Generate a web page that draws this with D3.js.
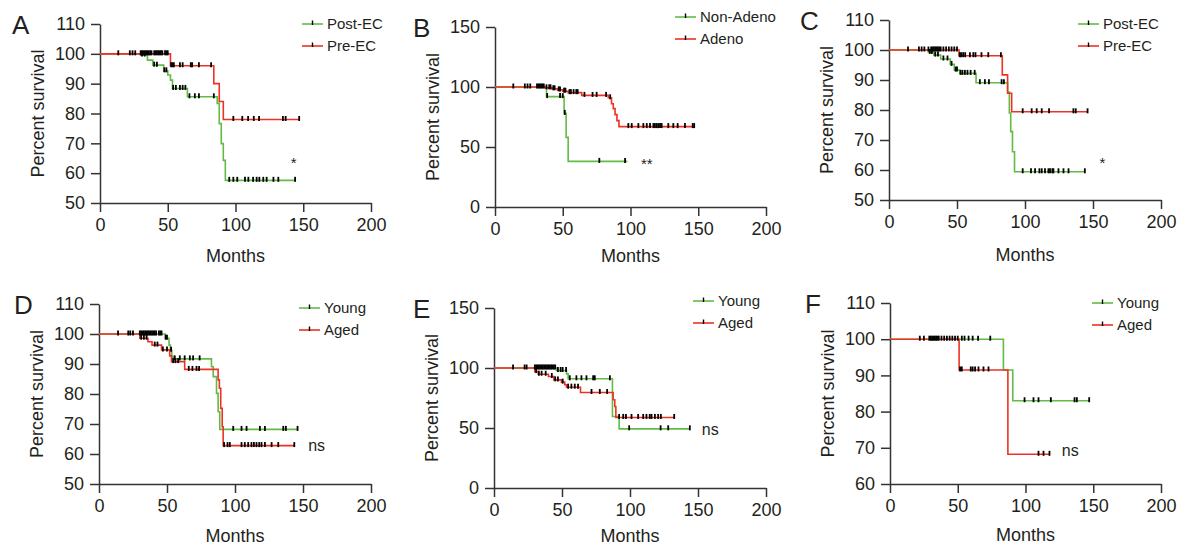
<!DOCTYPE html>
<html>
<head>
<meta charset="utf-8">
<script src="https://cdn.jsdelivr.net/npm/d3@7"></script>
<style>
  body { margin: 0; background: #fff; }
  text { font-family: "Liberation Sans", Arial, sans-serif; fill: #231f20; }
</style>
</head>
<body>
<div id="chart"></div>
<script>
// ---- data: step points [months, percent] and censor times ----
// A: Post-EC vs Pre-EC
var aPost = [[0,100],[30,99.6],[35,97.9],[39,96.2],[47,94.3],[50,92.9],[52,91.2],[53.5,88.4],[64.5,85.6],[86.5,83.4],[88,76.6],[89.5,69.9],[91,64.3],[92.5,57.6],[144,57.6]];
var aPostCens = [31,33,40,42,47.5,49,54,56,59,61,63,66,70,73,84,95.4,98.4,101.3,107,109.5,113,115.6,117.6,120.5,123,128,131.6,144];
var aPre = [[0,100],[52,96],[84,90],[88,84],[91,78],[147,78]];
var aPreCens = [13.5,22,24,26,30,31,32,33,34,35,36,37,38,40,41,42,43,44,45,46,48,49,50,52.5,53.5,54.5,59,61,67,68,73,82,98.4,105,109.3,113.5,117.4,135,137,147];

// B: Non-Adeno vs Adeno
var bNon = [[0,100],[38,92],[51,78],[52.5,58],[54,38],[97.7,38]];
var bNonCens = [38.5,48,50,51.5,77,96];
var bAde = [[0,100],[37,99.3],[42,98.5],[46,97.6],[50,96.5],[54,95.3],[64,93],[83.6,91],[86,86],[87.3,82],[88.6,77],[90,72],[91.5,67],[147,67]];
var bAdeCens = [13.5,22,24,26,31,32,33,34,35,36,38,40,41,43,44,47,48,51,52,55,56,58,60,61,66,72,75,82,85,98.4,100.9,105.8,109.5,112,114.4,116.9,118,119.3,120.5,121.8,123,127.9,131.6,134.8,140.2,145.9,147];

// C: Post-EC vs Pre-EC
var cPost = [[0,100],[29,99.2],[33,98.3],[38,97],[45,95.2],[48,93.3],[52,92.2],[64,89.1],[87.2,86],[88.5,79],[89.5,72.8],[90.8,66.1],[92.3,59.4],[144,59.4]];
var cPostCens = [30,31.5,34,36,40,43,46,49,50,52.6,54,55.8,57.7,60,63,66.8,70.5,73.5,82.8,84.5,98.3,104.4,107.4,110.6,112.3,114.7,117.2,118.4,120.1,120.9,124.6,128.3,132,144];
var cPre = [[0,100],[51.5,98.1],[83.3,91.7],[87.2,85.6],[90.2,79.4],[146,79.4]];
var cPreCens = [14,22,24,26,29,31,32,33,34,35,36,37,38,40,42,44,46,48,50,52,53,54.5,56,59.5,62,63.6,68,73,82.3,98.3,104.9,108.6,112.3,117.7,135.6,137.3,146];

// D: Young vs Aged
var dYoung = [[0,100],[48.8,98.6],[51.5,96.3],[52.5,94.6],[53.5,92.6],[54.5,91.7],[82.7,89.1],[84,85.8],[86.4,80.2],[87.6,74.1],[88.8,68.2],[146,68.2]];
var dYoungCens = [14,21.5,23,25,30,31,32,33,34,35,36,37,38,39,40,41,42,44,45,46,49,50,53,55.7,59.4,63,66.8,69.2,74,98.7,104.8,108.5,118.3,122,135.5,137.4,146];
var dAged = [[0,100],[30,98.6],[36,97.4],[39,96.3],[46,94.7],[52,92.7],[53.3,90.8],[63,88.2],[87.6,84.7],[88.5,81.9],[89.5,75.2],[90.6,69.1],[91.3,62.8],[144,62.8]];
var dAgedCens = [31,33,35,41,43,47,50,54.5,56.2,58.2,66,68.7,71.7,73.6,92,94.5,96.2,104.8,107.2,109.7,112.1,113.9,115.8,117.8,119.5,122,126.9,131.8,143.6];

// E: Young vs Aged
var eYoung = [[0,100],[45.9,97.9],[53.3,95.1],[54.5,91],[87.1,59.6],[92,49.3],[144,49.3]];
var eYoungCens = [14,22.5,24,30,31,32,33,34,35,36,37,38,39,40,41,42,43,44,45,47,49,50.5,53,55.7,60.6,64.3,68,72.9,74.1,85.2,99.4,122.5,128.1,144];
var eAged = [[0,100],[30,97],[32.5,94.8],[40,92.9],[44,90.1],[49.6,88.2],[52,86],[53.3,84],[63.6,79.6],[87.6,73.5],[88.8,67.9],[89.6,58.8],[132.5,58.8]];
var eAgedCens = [31,33,35,38,42.5,45,47,50.5,54.5,56.9,59.4,61.8,71.7,77.8,83.2,92,95,97,101.1,106,109.7,112.1,114.5,115.8,118.3,120.7,122.7,132.5];

// F: Young vs Aged
var fYoung = [[0,100],[83.7,91.5],[90.6,83],[147,83]];
var fYoungCens = [22,25,29,30,31,32,33,34,35,36,38,40,42,44,46,48,50,53,55,58,61,65,74,99.3,105.9,109.6,118.7,136.2,137.9,147];
var fAged = [[0,100],[51,91.5],[87,68.2],[118,68.2]];
var fAgedCens = [51.7,53,59.6,61,62.8,65.3,69,72.7,109.6,113.3,117.7];

var xTicks = [0, 50, 100, 150, 200];

// ---- layout of the six panels ----
var panels = [
  {letter:"A", l:100, r:371, t:24, b:203, my:262, yDom:[50,110], yTicks:[50,60,70,80,90,100,110],
   green:aPost, greenCens:aPostCens, red:aPre, redCens:aPreCens, names:["Post-EC","Pre-EC"],
   legX:302, legY:24, lx:12, note:"*", noteAt:[143,63.5]},
  {letter:"B", l:495, r:766, t:27, b:207, my:262, yDom:[0,150], yTicks:[0,50,100,150],
   green:bNon, greenCens:bNonCens, red:bAde, redCens:bAdeCens, names:["Non-Adeno","Adeno"],
   legX:675, legY:17, lx:413, note:"**", noteAt:[112,36]},
  {letter:"C", l:889, r:1161, t:20, b:200, my:261, yDom:[50,110], yTicks:[50,60,70,80,90,100,110],
   green:cPost, greenCens:cPostCens, red:cPre, redCens:cPreCens, names:["Post-EC","Pre-EC"],
   legX:1078, legY:24, lx:800, note:"*", noteAt:[157,62.5]},
  {letter:"D", l:99, r:371, t:304, b:484, my:542, yDom:[50,110], yTicks:[50,60,70,80,90,100,110],
   green:dYoung, greenCens:dYoungCens, red:dAged, redCens:dAgedCens, names:["Young","Aged"],
   legX:299, legY:308, lx:14, note:"ns", noteAt:[160,63]},
  {letter:"E", l:494, r:766, t:308, b:488, my:542, yDom:[0,150], yTicks:[0,50,100,150],
   green:eYoung, greenCens:eYoungCens, red:eAged, redCens:eAgedCens, names:["Young","Aged"],
   legX:693, legY:301, lx:413, note:"ns", noteAt:[159,49]},
  {letter:"F", l:890, r:1161, t:303, b:484, my:541, yDom:[60,110], yTicks:[60,70,80,90,100,110],
   green:fYoung, greenCens:fYoungCens, red:fAged, redCens:fAgedCens, names:["Young","Aged"],
   legX:1092, legY:303, lx:805, note:"ns", noteAt:[133,69.4]}
];

var GREEN = "#62bb46", RED = "#ed3224", AXIS = "#333";

var svg = d3.select("#chart").append("svg")
  .attr("width", 1181).attr("height", 548);

// survival value at time t from step data
function survAt(steps, t) {
  var v = steps[0][1];
  steps.forEach(function(p) { if (p[0] <= t) v = p[1]; });
  return v;
}

panels.forEach(function(p) {
  var x = d3.scaleLinear().domain([0, 200]).range([p.l, p.r]);
  var y = d3.scaleLinear().domain(p.yDom).range([p.b, p.t]);
  var g = svg.append("g");

  // axes
  var xa = g.append("g").attr("transform", "translate(0," + p.b + ")")
    .call(d3.axisBottom(x).tickValues(xTicks).tickSize(9).tickPadding(6).tickSizeOuter(0));
  var ya = g.append("g").attr("transform", "translate(" + p.l + ",0)")
    .call(d3.axisLeft(y).tickValues(p.yTicks).tickSize(9).tickPadding(6).tickSizeOuter(0));
  [xa, ya].forEach(function(a) {
    a.select(".domain").attr("stroke", AXIS).attr("stroke-width", 1.5);
    a.selectAll(".tick line").attr("stroke", AXIS).attr("stroke-width", 1.5);
    a.selectAll(".tick text").style("font-size", "18px").attr("fill", "#231f20")
      .style("font-family", "'Liberation Sans', Arial, sans-serif");
  });

  // axis titles
  g.append("text")
    .attr("x", (p.l + p.r) / 2).attr("y", p.my)
    .attr("text-anchor", "middle").style("font-size", "18px")
    .text("Months");
  g.append("text")
    .attr("transform", "translate(" + (p.l - 56) + "," + ((p.t + p.b) / 2) + ") rotate(-90)")
    .attr("text-anchor", "middle").style("font-size", "18px")
    .text("Percent survival");

  // panel letter
  g.append("text").attr("x", p.lx).attr("y", p.t + 10)
    .style("font-size", "26px").text(p.letter);

  // curves
  var line = d3.line().curve(d3.curveStepAfter)
    .x(function(d) { return x(d[0]); })
    .y(function(d) { return y(d[1]); });

  [[p.green, GREEN], [p.red, RED]].forEach(function(s) {
    g.append("path").datum(s[0])
      .attr("fill", "none").attr("stroke", s[1]).attr("stroke-width", 1.6)
      .attr("d", line);
  });
  // censor marks
  [[p.green, p.greenCens], [p.red, p.redCens]].forEach(function(s) {
    g.selectAll(null).data(s[1]).enter().append("line")
      .attr("x1", function(t) { return x(t); })
      .attr("x2", function(t) { return x(t); })
      .attr("y1", function(t) { return y(survAt(s[0], t)) - 3.5; })
      .attr("y2", function(t) { return y(survAt(s[0], t)) + 1.5; })
      .attr("stroke", "#000").attr("stroke-width", 1.8);
  });

  // legend
  [GREEN, RED].forEach(function(c, i) {
    var ly = p.legY + i * 22;
    g.append("line").attr("x1", p.legX).attr("x2", p.legX + 21)
      .attr("y1", ly).attr("y2", ly).attr("stroke", c).attr("stroke-width", 1.6);
    g.append("line").attr("x1", p.legX + 10.5).attr("x2", p.legX + 10.5)
      .attr("y1", ly - 3.5).attr("y2", ly + 1).attr("stroke", "#000").attr("stroke-width", 1.4);
    g.append("text").attr("x", p.legX + 25).attr("y", ly).attr("dy", "0.35em")
      .style("font-size", "15px").text(p.names[i]);
  });

  // significance note
  g.append("text").attr("x", x(p.noteAt[0])).attr("y", y(p.noteAt[1]))
    .attr("dy", "0.35em").attr("text-anchor", "middle")
    .style("font-size", p.note === "ns" ? "16px" : "15px").text(p.note);
});
</script>
</body>
</html>
